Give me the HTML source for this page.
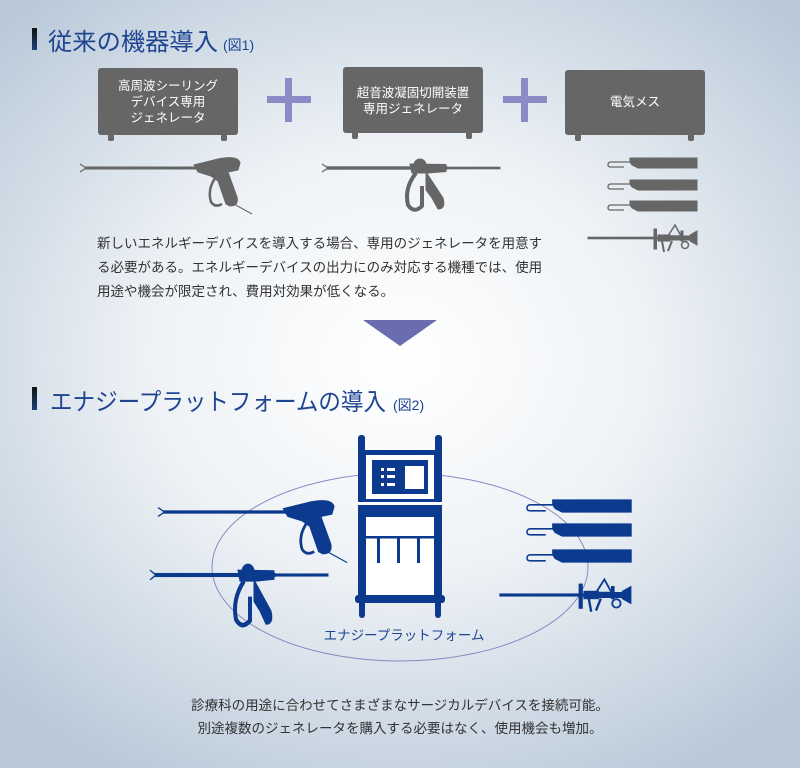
<!DOCTYPE html>
<html><head><meta charset="utf-8"><style>
html,body{margin:0;padding:0;width:800px;height:768px;overflow:hidden}
svg{display:block}
text{font-family:"Liberation Sans","Noto Sans CJK JP",sans-serif}
</style></head><body>
<svg width="800" height="768" viewBox="0 0 800 768" xmlns="http://www.w3.org/2000/svg">
<defs>
<radialGradient id="bg" cx="400" cy="360" r="560" gradientUnits="userSpaceOnUse" gradientTransform="translate(400 360) scale(1 0.85) translate(-400 -360)">
<stop offset="0" stop-color="#ffffff"/><stop offset="0.45" stop-color="#eef2f6"/><stop offset="1" stop-color="#b9c9d9"/>
</radialGradient>
<linearGradient id="bar" x1="0" y1="0" x2="0" y2="1"><stop offset="0" stop-color="#111"/><stop offset="1" stop-color="#1c3f7a"/></linearGradient>
<g id="gunA">
<path d="M0,-4 L6,0 L0,4" fill="none" stroke-width="1.2"/>
<rect x="5" y="-1" width="113" height="2"/>
<path d="M114,-3 L138,-9 Q158,-13 160,-5 L158,2 L148,4 L157,29 Q159,38 150,38 L146,36 L138,13 L131,8 L118,4 Z"/>
<path d="M136,9 Q127,21 131,34 Q135,40 142,36" fill="none" stroke-width="2.5"/>
<path d="M152,35 L172,46" fill="none" stroke-width="1"/>
</g>
<g id="gunB">
<path d="M0,-4 L6,0 L0,4" fill="none" stroke-width="1.2"/>
<rect x="5" y="-1.2" width="120" height="2.4"/>
<rect x="120" y="-0.8" width="58" height="1.6"/>
<circle cx="98" cy="-3" r="6"/>
<path d="M88,-4 L124,-3.5 L124,3.5 L106,5 L90,5 Z"/>
<path d="M94,5 Q82,20 86,37 Q92,46 100,38 L100,18" fill="none" stroke-width="4"/>
<path d="M104,4 L121,30 Q124,41 116,41 L110,30 L104,22 Z"/>
</g>
<g id="probe">
<path d="M22,-5 L89,-5 L89,5 L30,5 L24,2 L22,-1 Z"/>
<path d="M22,-1 L3,-1 Q0,-1 0,2 Q0,4 3,4 L16,4" fill="none" stroke-width="1.3"/>
</g>
<g id="scope">
<rect x="0" y="-0.8" width="76" height="1.6"/>
<rect x="66" y="-9" width="2.5" height="20"/>
<rect x="70" y="-3" width="12" height="6"/>
<path d="M80,-2 L87,-13 L93,-2 Z" fill="none" stroke-width="1.5"/>
<path d="M74,3 L76,14 M84,3 L80,13" stroke-width="2" fill="none"/>
<rect x="82" y="-2" width="20" height="4"/>
<rect x="93" y="-7" width="2" height="10"/>
<circle cx="97" cy="7" r="3.5" fill="none" stroke-width="1.5"/>
<path d="M102,-3 L109,-7 L109,7 L102,3 Z"/>
</g>
</defs>
<rect width="800" height="768" fill="url(#bg)"/>

<rect x="32" y="28" width="5" height="22" fill="url(#bar)"/>
<text x="48" y="50" font-size="24" fill="#1f4591" textLength="170" lengthAdjust="spacingAndGlyphs">従来の機器導入</text>
<text x="223" y="50" font-size="14" fill="#1f4591">(図1)</text>

<g fill="#666">
<rect x="98" y="68" width="140" height="67" rx="3"/>
<rect x="108" y="134" width="6" height="7" rx="2"/><rect x="221" y="134" width="6" height="7" rx="2"/>
<rect x="343" y="67" width="140" height="66" rx="3"/>
<rect x="352" y="132" width="6" height="7" rx="2"/><rect x="466" y="132" width="6" height="7" rx="2"/>
<rect x="565" y="70" width="140" height="65" rx="3"/>
<rect x="575" y="134" width="6" height="7" rx="2"/><rect x="688" y="134" width="6" height="7" rx="2"/>
</g>
<g fill="#fff" font-size="12.5" text-anchor="middle">
<text x="168" y="90">高周波シーリング</text>
<text x="168" y="106">デバイス専用</text>
<text x="168" y="122">ジェネレータ</text>
<text x="413" y="97">超音波凝固切開装置</text>
<text x="413" y="113">専用ジェネレータ</text>
<text x="635" y="106">電気メス</text>
</g>
<g fill="#8b8bc6">
<rect x="267" y="96" width="44" height="7"/><rect x="285" y="78" width="7" height="44"/>
<rect x="503" y="96" width="44" height="7"/><rect x="521" y="78" width="7" height="44"/>
</g>

<g fill="#666" stroke="#666">
<use href="#gunA" transform="translate(80,168)"/>
<use href="#gunB" transform="translate(322,168)"/>
<use href="#probe" transform="translate(608,163)"/>
<use href="#probe" transform="translate(608,185)"/>
<use href="#probe" transform="translate(608,206)"/>
<use href="#scope" transform="translate(588,238)"/>
</g>

<g fill="#333" font-size="13.5">
<text x="97" y="248">新しいエネルギーデバイスを導入する場合、専用のジェネレータを用意す</text>
<text x="97" y="272">る必要がある。エネルギーデバイスの出力にのみ対応する機種では、使用</text>
<text x="97" y="296">用途や機会が限定され、費用対効果が低くなる。</text>
</g>

<path d="M363,320 L437,320 L400,346 Z" fill="#6b6bb0"/>

<rect x="32" y="387" width="5" height="23" fill="url(#bar)"/>
<text x="50" y="410" font-size="24" fill="#1f4591" textLength="336" lengthAdjust="spacingAndGlyphs">エナジープラットフォームの導入</text>
<text x="393" y="410" font-size="14" fill="#1f4591">(図2)</text>

<ellipse cx="400" cy="567" rx="188" ry="94" fill="none" stroke="#8a8ac0" stroke-width="1"/>

<g fill="#0b3a8e">
<rect x="358" y="435" width="7" height="20" rx="3"/><rect x="435" y="435" width="7" height="20" rx="3"/>
<rect x="358" y="450" width="84" height="150"/>
<rect x="355" y="595" width="90" height="8" rx="3"/>
<rect x="359" y="600" width="6" height="18" rx="3"/><rect x="435" y="600" width="6" height="18" rx="3"/>
</g>
<g fill="#fff">
<rect x="366" y="455" width="68" height="44"/>
<rect x="366" y="517" width="68" height="78"/>
</g>
<rect x="372" y="460" width="56" height="34" fill="#0b3a8e"/>
<rect x="405" y="466" width="19" height="23" fill="#fff"/>
<g fill="#fff">
<rect x="381" y="468" width="3" height="3"/><rect x="387" y="468" width="8" height="3"/>
<rect x="381" y="475" width="3" height="3"/><rect x="387" y="475" width="8" height="3"/>
<rect x="381" y="483" width="3" height="3"/><rect x="387" y="483" width="8" height="3"/>
</g>
<rect x="358" y="502" width="84" height="3" fill="#fff"/>
<g fill="#0b3a8e">
<rect x="366" y="536" width="68" height="2.5"/>
<rect x="377" y="538" width="3" height="25"/><rect x="397" y="538" width="3" height="25"/><rect x="417" y="538" width="3" height="25"/>
</g>

<g fill="#0b3a8e" stroke="#0b3a8e">
<use href="#gunA" transform="translate(158,512) scale(1.1)"/>
<use href="#gunB" transform="translate(150,575) scale(1.0,1.2)"/>
<use href="#probe" transform="translate(527,506) scale(1.17,1.2)"/>
<use href="#probe" transform="translate(527,530) scale(1.17,1.2)"/>
<use href="#probe" transform="translate(527,556) scale(1.17,1.2)"/>
<use href="#scope" transform="translate(500,595) scale(1.2)"/>
</g>

<text x="404" y="640" font-size="13.5" fill="#1f4591" text-anchor="middle">エナジープラットフォーム</text>

<g fill="#333" font-size="13.5" text-anchor="middle">
<text x="400" y="710">診療科の用途に合わせてさまざまなサージカルデバイスを接続可能。</text>
<text x="400" y="733">別途複数のジェネレータを購入する必要はなく、使用機会も増加。</text>
</g>
</svg>
</body></html>
